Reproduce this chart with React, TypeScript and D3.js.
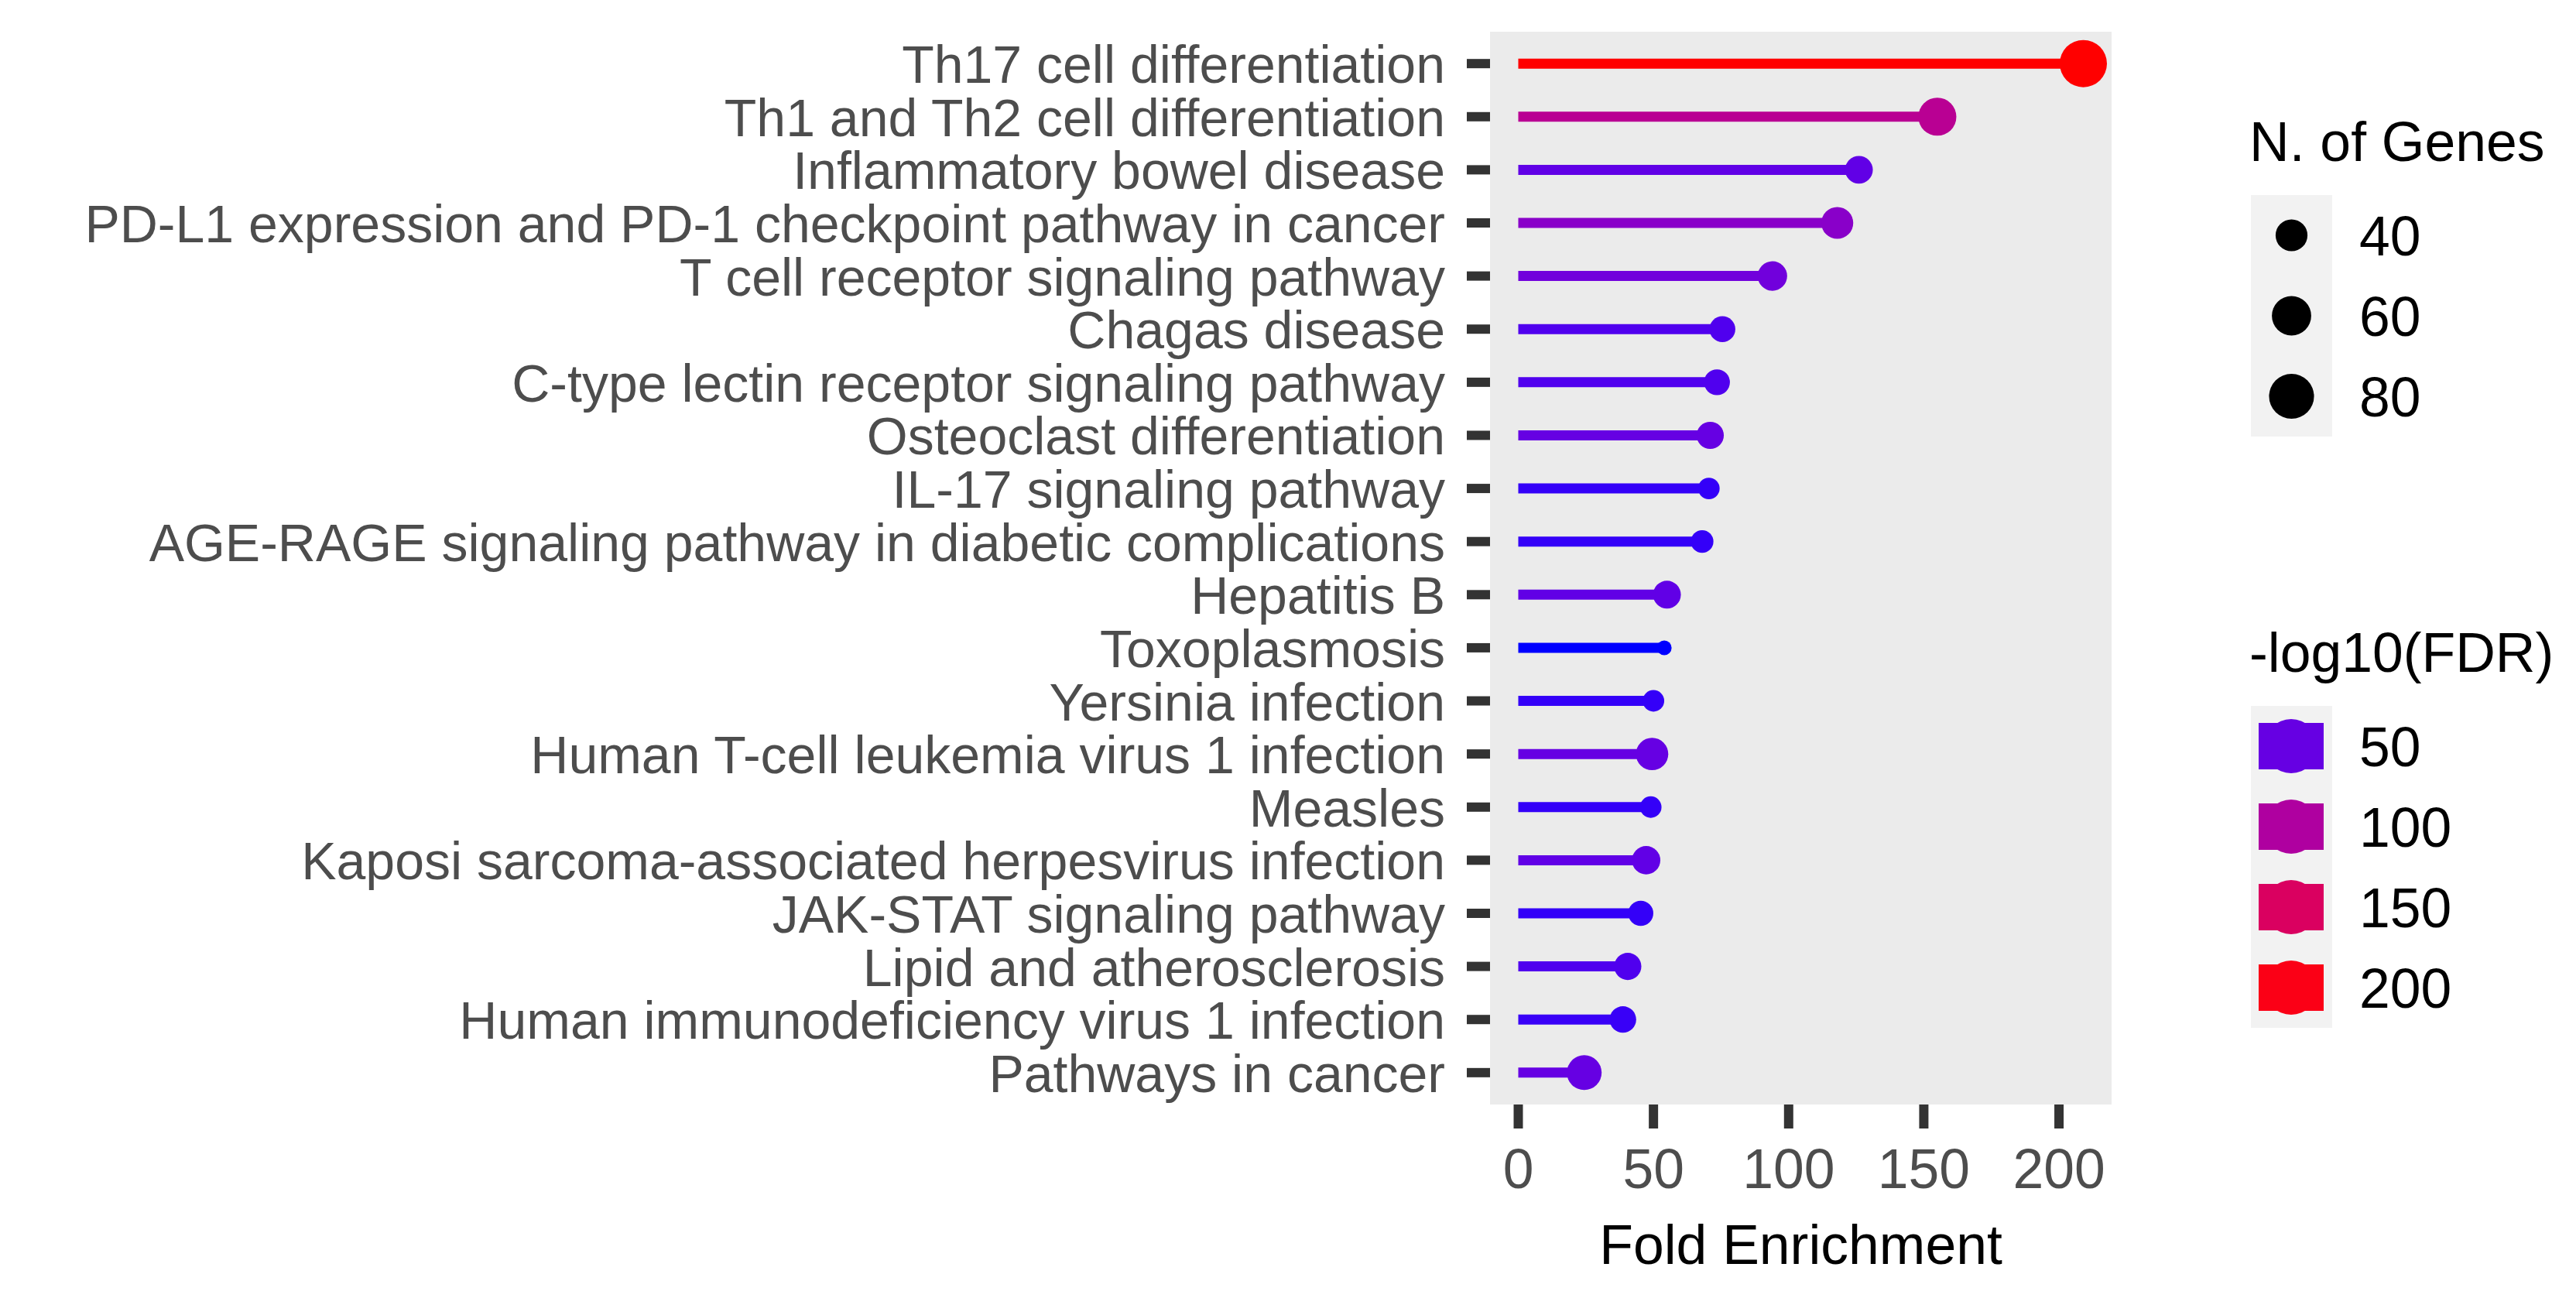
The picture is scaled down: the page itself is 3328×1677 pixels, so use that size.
import * as d3 from 'd3';
import React from 'react';

const pathways = [
  'Th17 cell differentiation',
  'Th1 and Th2 cell differentiation',
  'Inflammatory bowel disease',
  'PD-L1 expression and PD-1 checkpoint pathway in cancer',
  'T cell receptor signaling pathway',
  'Chagas disease',
  'C-type lectin receptor signaling pathway',
  'Osteoclast differentiation',
  'IL-17 signaling pathway',
  'AGE-RAGE signaling pathway in diabetic complications',
  'Hepatitis B',
  'Toxoplasmosis',
  'Yersinia infection',
  'Human T-cell leukemia virus 1 infection',
  'Measles',
  'Kaposi sarcoma-associated herpesvirus infection',
  'JAK-STAT signaling pathway',
  'Lipid and atherosclerosis',
  'Human immunodeficiency virus 1 infection',
  'Pathways in cancer',
];
const foldEnrichment = [209, 155, 126, 118, 94, 75.5, 73.5, 71, 70.5, 68, 55, 54, 50, 49.5, 49, 47.3, 45.3, 40.5, 38.7, 24.4];
const geneCounts = [89, 56, 32, 40, 35, 29, 29, 31, 24, 25, 32, 21, 24, 41, 24, 33, 28, 31, 30, 47];
const negLog10FDR = [207, 110, 48, 69, 55, 42, 42, 50, 35, 35, 48, 30, 35, 50, 35, 48, 35, 42, 36, 50];

const xTicks = [0, 50, 100, 150, 200];
const sizeBreaks = [40, 60, 80];
const colorBreaks = [50, 100, 150, 200];

const FONT = '"Liberation Sans", Arial, Helvetica, sans-serif';
const FS = 71.5;
// row labels sit 68.6px apart, keep their em boxes from touching
const FS_Y = 68;

export default function App() {
  const W = 3328;
  const H = 1677;
  const panel = { left: 1925, right: 2728, top: 41, bottom: 1427 };

  const maxFE = d3.max(foldEnrichment) as number;
  const x = d3
    .scaleLinear()
    .domain([-0.05 * maxFE, 1.05 * maxFE])
    .range([panel.left, panel.right]);
  const y = d3.scalePoint<string>().domain(pathways).range([panel.top, panel.bottom]).padding(0.6);

  const color = d3
    .scaleLinear<string>()
    .domain(d3.extent(negLog10FDR) as [number, number])
    .range(['blue', 'red'])
    .interpolate(d3.interpolateLab);

  // ggplot-style area scale: radius grows with sqrt of the rescaled count
  const rescale = d3.scaleLinear().domain(d3.extent(geneCounts) as [number, number]).range([0, 1]);
  const radius = (n: number) => 9.5 + 21 * Math.sqrt(Math.max(0, rescale(n)));

  const rows = pathways.map((p, i) => ({
    name: p,
    fe: foldEnrichment[i],
    n: geneCounts[i],
    fdr: negLog10FDR[i],
  }));

  const legendX = 2908;
  const keyW = 105;
  const keyH = 104;
  const sizeTop = 252;
  const colorTop = 912;

  return (
    <svg
      width={W}
      height={H}
      style={{ position: 'absolute', left: 0, top: 0, background: '#fff' }}
      fontFamily={FONT}
    >
      <rect x={panel.left} y={panel.top} width={panel.right - panel.left} height={panel.bottom - panel.top} fill="#EBEBEB" />

      {rows.map(d => (
        <g key={d.name}>
          <line
            x1={x(0)}
            x2={x(d.fe)}
            y1={y(d.name)}
            y2={y(d.name)}
            stroke={color(d.fdr)}
            strokeWidth={13}
          />
          <circle cx={x(d.fe)} cy={y(d.name)} r={radius(d.n)} fill={color(d.fdr)} />
        </g>
      ))}

      {/* y axis */}
      {pathways.map(p => (
        <g key={p} transform={`translate(0,${y(p)})`}>
          <line x1={panel.left - 30} x2={panel.left} stroke="#333333" strokeWidth={12} />
          <text x={panel.left - 58} dy={25} textAnchor="end" fontSize={FS_Y} fill="#4D4D4D">
            {p}
          </text>
        </g>
      ))}

      {/* x axis */}
      {xTicks.map(t => (
        <g key={t} transform={`translate(${x(t)},0)`}>
          <line y1={panel.bottom} y2={panel.bottom + 31} stroke="#333333" strokeWidth={12} />
          <text y={1535} textAnchor="middle" fontSize={FS} fill="#4D4D4D">
            {t}
          </text>
        </g>
      ))}
      <text x={(panel.left + panel.right) / 2} y={1633} textAnchor="middle" fontSize={FS} fill="#000">
        Fold Enrichment
      </text>

      {/* size legend */}
      <text x={legendX - 2} y={208} fontSize={FS} fill="#000">
        N. of Genes
      </text>
      {sizeBreaks.map((b, i) => {
        const cy = sizeTop + keyH * i + keyH / 2;
        return (
          <g key={b}>
            <rect x={legendX} y={sizeTop + keyH * i} width={keyW} height={keyH} fill="#F2F2F2" />
            <circle cx={legendX + keyW / 2} cy={cy} r={radius(b)} fill="#000" />
            <text x={3048} y={cy + 26} fontSize={FS} fill="#000">
              {b}
            </text>
          </g>
        );
      })}

      {/* colour legend */}
      <text x={legendX - 2} y={868} fontSize={FS} fill="#000">
        -log10(FDR)
      </text>
      {colorBreaks.map((b, i) => {
        const cy = colorTop + keyH * i + keyH / 2;
        return (
          <g key={b}>
            <rect x={legendX} y={colorTop + keyH * i} width={keyW} height={keyH} fill="#F2F2F2" />
            <rect x={legendX + 10} y={cy - 30} width={84} height={60} fill={color(b)} />
            <circle cx={legendX + 52} cy={cy} r={35} fill={color(b)} />
            <text x={3048} y={cy + 26} fontSize={FS} fill="#000">
              {b}
            </text>
          </g>
        );
      })}
    </svg>
  );
}
